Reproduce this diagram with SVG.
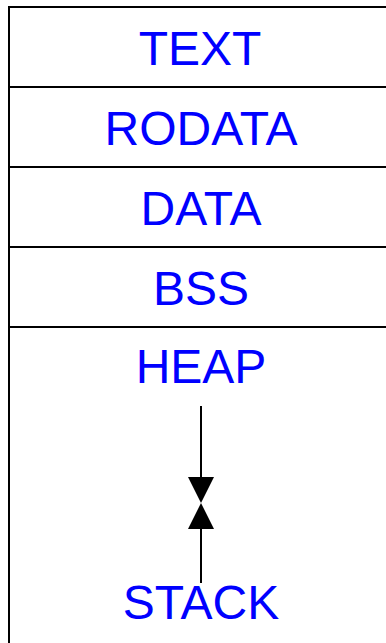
<svg xmlns="http://www.w3.org/2000/svg" width="386" height="643" viewBox="0 0 386 643">
<style>
.box{fill:none;stroke:#000;stroke-width:2}
.sep{stroke:#000;stroke-width:2}
.lbl{font-family:"Liberation Sans",Arial,sans-serif;font-size:48px;fill:#0000ff;text-anchor:middle}
.conn{stroke:#000;stroke-width:2;fill:none}
</style>
<defs>
<marker id="ah" markerUnits="userSpaceOnUse" markerWidth="26" markerHeight="26" viewBox="0 0 26 26" refX="0" refY="13" orient="auto">
<path d="M0,0 L26,13 L0,26 z" fill="#000"/>
</marker>
</defs>
<rect class="box" x="9" y="7" width="420" height="700"/>
<g id="text"><text class="lbl" x="200" y="65">TEXT</text></g>
<line class="sep" x1="9" y1="87" x2="386" y2="87"/>
<g id="rodata"><text class="lbl" x="201" y="145">RODATA</text></g>
<line class="sep" x1="9" y1="167" x2="386" y2="167"/>
<g id="data"><text class="lbl" x="201" y="225">DATA</text></g>
<line class="sep" x1="9" y1="247" x2="386" y2="247"/>
<g id="bss"><text class="lbl" x="201" y="305">BSS</text></g>
<line class="sep" x1="9" y1="327" x2="386" y2="327"/>
<g id="heap"><text class="lbl" x="201" y="383">HEAP</text></g>
<g id="stack"><text class="lbl" x="201" y="619">STACK</text></g>
<g id="connectors">
<line class="conn" x1="201" y1="406" x2="201" y2="477" marker-end="url(#ah)"/>
<line class="conn" x1="201" y1="583" x2="201" y2="529" marker-end="url(#ah)"/>
</g>
</svg>
